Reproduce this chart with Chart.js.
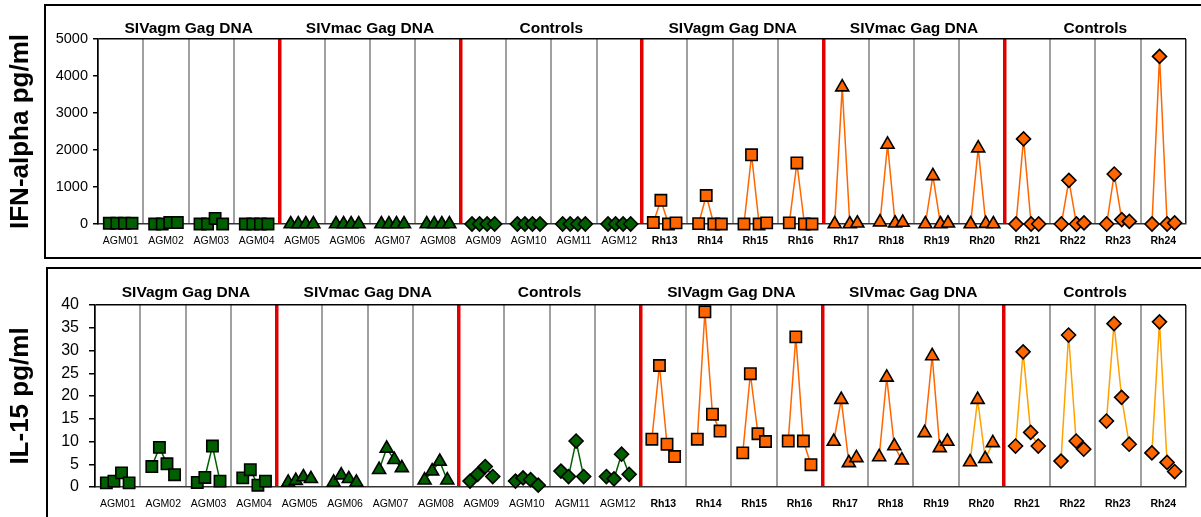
<!DOCTYPE html>
<html>
<head>
<meta charset="utf-8">
<script src="https://cdn.jsdelivr.net/npm/chart.js@4.4.1/dist/chart.umd.min.js"></script>
<style>
  body { margin: 0; background: #fff; width: 1201px; height: 517px; overflow: hidden; position: relative; }
  .box { position: absolute; border: 2px solid #000; }
  #box1 { left: 44px; top: 4px; width: 1200px; height: 251px; }
  #box2 { left: 46px; top: 267px; width: 1200px; height: 300px; }
  canvas { position: absolute; left: 0; }
  #chartIfn { top: 0; }
  #chartIl15 { top: 262px; }
</style>
</head>
<body>
<div class="box" id="box1"></div>
<div class="box" id="box2"></div>
<canvas id="chartIfn" width="1201" height="258"></canvas>
<canvas id="chartIl15" width="1201" height="255"></canvas>
<script>
// animales (4 tiempos cada uno)
const animals = ['AGM01','AGM02','AGM03','AGM04','AGM05','AGM06','AGM07','AGM08','AGM09','AGM10','AGM11','AGM12',
  'Rh13','Rh14','Rh15','Rh16','Rh17','Rh18','Rh19','Rh20','Rh21','Rh22','Rh23','Rh24']
const groupTitles = ['SIVagm Gag DNA','SIVmac Gag DNA','Controls','SIVagm Gag DNA','SIVmac Gag DNA','Controls']

// IFN-alpha pg/ml
const ifnAlpha = [
  [20,20,20,20],[0,0,40,40],[0,0,150,0],[0,0,0,0],
  [0,0,0,0],[0,0,0,0],[0,0,0,0],[0,0,0,0],
  [0,0,0,0],[0,0,0,0],[0,0,0,0],[0,0,0,0],
  [40,640,0,30],[10,770,0,0],[0,1870,0,30],[30,1650,0,0],
  [0,3700,0,20],[50,2150,20,40],[0,1300,0,20],[0,2050,10,0],
  [0,2300,0,0],[0,1180,0,30],[0,1350,120,70],[0,4530,0,30]
]

// IL-15 pg/ml
const il15 = [
  [0.9,1.3,3.1,0.9],[4.5,8.7,5.1,2.7],[1.0,2.1,9.0,1.3],[2.0,3.8,0.4,1.3],
  [1.0,1.4,2.2,1.8],[1.0,2.6,1.8,1.0],[3.8,8.5,6.0,4.2],[1.5,3.5,5.6,1.5],
  [1.3,2.8,4.5,2.3],[1.3,2.0,1.6,0.4],[3.5,2.3,10.1,2.3],[2.3,1.8,7.2,2.8],
  [10.5,26.7,9.4,6.7],[10.5,38.5,16.0,12.3],[7.5,24.9,11.7,10.0],[10.1,33.0,10.1,4.9],
  [10.0,19.2,5.3,6.4],[6.6,24.1,9.0,5.9],[11.9,28.8,8.6,10.0],[5.5,19.2,6.2,9.7],
  [9.0,29.7,12.0,9.0],[5.7,33.4,10.1,8.3],[14.5,35.9,19.7,9.4],[7.5,36.3,5.4,3.4]
]

const SLOTS = 6   // cada animal ocupa 6 posiciones: hueco, 4 tiempos, hueco
const FONT = '"Liberation Sans", Arial, sans-serif'
const shapes = ['rect','triangle','rectRot']
const GREEN = '#006000'
const ORANGE = '#ff6600'
const AMBER = '#ffa200'

const groupTitlePlugin = {
  id: 'groupTitles',
  afterDraw(chart, args, opts) {
    const {ctx, chartArea, scales} = chart
    ctx.save()
    ctx.font = 'bold 15.5px ' + FONT
    ctx.fillStyle = '#000'
    ctx.textAlign = 'center'
    ctx.textBaseline = 'middle'
    groupTitles.forEach((t, g) => {
      ctx.fillText(t, scales.x.getPixelForValue(g * 4 * SLOTS + 2 * SLOTS), chartArea.top - opts.gap)
    })
    ctx.restore()
  }
}

const generatePanel = (canvasId, values, cfg) => {
  const datasets = values.map((vals, i) => {
    const line = i < 12 ? GREEN : (cfg.amberFrom !== undefined && i >= cfg.amberFrom ? AMBER : ORANGE)
    return {
      label: animals[i],
      data: vals.map((v, j) => ({x: i * SLOTS + 1.5 + j, y: v})),
      borderColor: line,
      borderWidth: 1.5,
      pointStyle: shapes[Math.floor(i / 4) % 3],
      pointRadius: [8, 7.5, 7][Math.floor(i / 4) % 3],
      pointBackgroundColor: i < 12 ? GREEN : ORANGE,
      pointBorderColor: '#000',
      pointBorderWidth: 1.6,
      clip: false
    }
  })

  return new Chart(document.getElementById(canvasId), {
    type: 'line',
    data: {datasets},
    plugins: [groupTitlePlugin],
    options: {
      responsive: false,
      animation: false,
      layout: {padding: {left: 0, right: 15, top: cfg.top, bottom: cfg.bottom}},
      plugins: {
        legend: {display: false},
        tooltip: {enabled: false},
        groupTitles: {gap: cfg.titleGap}
      },
      scales: {
        x: {
          type: 'linear', position: 'bottom', min: 0, max: animals.length * SLOTS,
          afterBuildTicks: s => { s.ticks = animals.concat(['']).map((a, k) => ({value: k * SLOTS})) },
          afterFit: s => { s.height = 0 },
          ticks: {display: false},
          border: {color: '#333', width: 1.5},
          grid: {
            drawTicks: false,
            color: c => {
              const v = c.tick.value
              if (v === 0 || v === animals.length * SLOTS) return '#222'
              return v % (4 * SLOTS) === 0 ? '#e00000' : '#a0a0a0'
            },
            lineWidth: c => {
              const v = c.tick.value
              if (v === 0 || v === animals.length * SLOTS) return 1.5
              return v % (4 * SLOTS) === 0 ? 3.5 : 2
            }
          }
        },
        xl: {
          type: 'linear', position: 'bottom', min: 0, max: animals.length * SLOTS,
          afterBuildTicks: s => { s.ticks = animals.map((a, k) => ({value: k * SLOTS + SLOTS / 2})) },
          afterFit: s => { s.height = 30 },
          border: {display: false},
          grid: {display: false, drawTicks: false},
          ticks: {
            autoSkip: false, maxRotation: 0, padding: 11, color: '#000',
            callback: (v, k) => animals[k],
            font: c => ({family: FONT, size: 10.5, weight: c.index >= 12 ? 'bold' : 'normal'})
          }
        },
        y: {
          min: 0, max: cfg.max,
          afterFit: s => { s.width = cfg.axisX },
          border: {color: '#000', width: 1.5},
          grid: {
            color: c => c.tick.value === cfg.max ? '#000' : 'rgba(0,0,0,0)',
            tickColor: '#000', tickLength: cfg.tickLength, lineWidth: 1.5
          },
          ticks: {
            stepSize: cfg.step, padding: cfg.tickPad, color: '#000',
            callback: v => String(v),
            font: {family: FONT, size: cfg.tickSize}
          },
          title: {
            display: true, text: cfg.title, color: '#000',
            font: {family: FONT, size: 26, weight: 'bold'},
            padding: {top: 5, bottom: 0}
          }
        }
      }
    }
  })
}

generatePanel('chartIfn', ifnAlpha, {
  title: 'IFN-alpha pg/ml', max: 5000, step: 500, top: 39, bottom: 4, titleGap: 10,
  axisX: 98, tickSize: 14.5, tickLength: 5, tickPad: 5
})
generatePanel('chartIl15', il15, {
  title: 'IL-15 pg/ml', max: 40, step: 5, top: 43, bottom: 0, titleGap: 12,
  axisX: 95, tickSize: 16, tickLength: 6, tickPad: 10, amberFrom: 19
})
</script>
</body>
</html>
